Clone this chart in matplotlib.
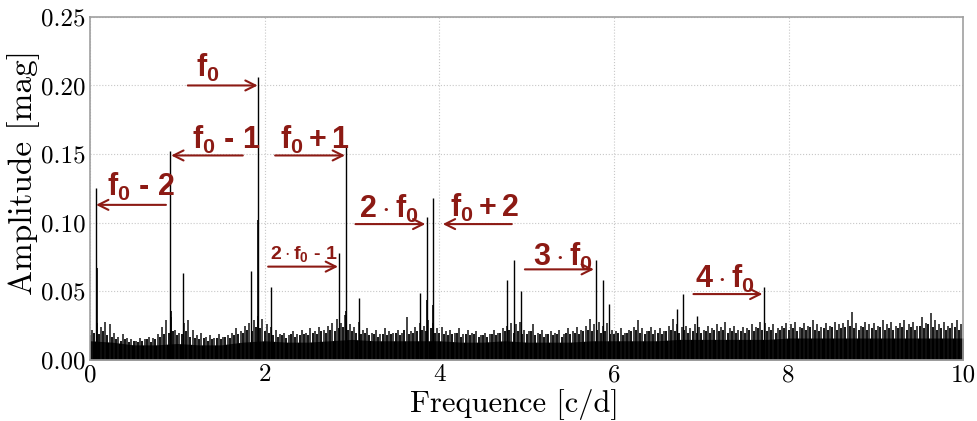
import numpy as np
import matplotlib
matplotlib.use("Agg")
import matplotlib.pyplot as plt
from matplotlib.ticker import FormatStrFormatter

plt.rcParams["font.family"] = "cmr10"
plt.rcParams["axes.formatter.use_mathtext"] = False
plt.rcParams["mathtext.fontset"] = "cm"
plt.rcParams["mathtext.rm"] = "Liberation Sans:bold"
plt.rcParams["mathtext.bf"] = "Liberation Sans:bold"
plt.rcParams["mathtext.it"] = "Liberation Sans:bold"

# main peaks of the amplitude spectrum [c/d], [mag]
peak_freq = [0.070, 0.916, 1.069, 1.844, 1.920, 2.077, 2.852, 2.928, 3.085,
             3.780, 3.856, 3.930, 4.780, 4.860, 4.930, 5.790, 5.870, 5.945,
             6.720, 6.790, 6.950, 7.720]
peak_amp = [0.125, 0.152, 0.063, 0.065, 0.206, 0.053, 0.078, 0.155, 0.045,
            0.049, 0.104, 0.118, 0.058, 0.073, 0.050, 0.073, 0.058, 0.041,
            0.037, 0.048, 0.032, 0.053]

# close companions sitting under the big peaks
side_freq = [0.076, 0.925, 1.926, 2.935, 3.862, 3.925]
side_amp = [0.067, 0.036, 0.102, 0.036, 0.044, 0.040]

# taller noise spikes, one every 0.05 c/d
noise_freq = np.arange(0.025, 10.0, 0.05)
noise_amp = [
    0.022, 0.027, 0.024, 0.028, 0.026, 0.020, 0.017, 0.019, 0.016, 0.015,
    0.014, 0.016, 0.015, 0.017, 0.016, 0.019, 0.024, 0.029, 0.031, 0.022,
    0.020, 0.027, 0.029, 0.022, 0.018, 0.020, 0.017, 0.018, 0.016, 0.019,
    0.017, 0.018, 0.020, 0.023, 0.021, 0.025, 0.027, 0.029, 0.032, 0.030,
    0.026, 0.024, 0.022, 0.019, 0.020, 0.018, 0.021, 0.019, 0.022, 0.020,
    0.023, 0.021, 0.024, 0.022, 0.025, 0.027, 0.030, 0.027, 0.033, 0.026,
    0.024, 0.028, 0.022, 0.023, 0.020, 0.022, 0.019, 0.023, 0.021, 0.020,
    0.022, 0.020, 0.031, 0.021, 0.024, 0.027, 0.025, 0.029, 0.027, 0.023,
    0.024, 0.021, 0.022, 0.020, 0.023, 0.019, 0.022, 0.020, 0.021, 0.018,
    0.020, 0.019, 0.022, 0.020, 0.023, 0.025, 0.027, 0.026, 0.028, 0.022,
    0.021, 0.026, 0.020, 0.022, 0.019, 0.021, 0.020, 0.022, 0.019, 0.023,
    0.021, 0.024, 0.022, 0.025, 0.030, 0.026, 0.028, 0.025, 0.027, 0.022,
    0.021, 0.023, 0.020, 0.022, 0.024, 0.029, 0.023, 0.021, 0.024, 0.022,
    0.023, 0.021, 0.025, 0.030, 0.026, 0.024, 0.025, 0.023, 0.026, 0.024,
    0.022, 0.025, 0.023, 0.026, 0.024, 0.028, 0.023, 0.025, 0.022, 0.024,
    0.023, 0.026, 0.024, 0.028, 0.027, 0.024, 0.026, 0.023, 0.025, 0.027,
    0.026, 0.028, 0.024, 0.027, 0.025, 0.029, 0.026, 0.024, 0.027, 0.025,
    0.028, 0.026, 0.027, 0.029, 0.035, 0.027, 0.025, 0.028, 0.026, 0.027,
    0.025, 0.029, 0.026, 0.028, 0.025, 0.027, 0.029, 0.026, 0.028, 0.025,
    0.031, 0.027, 0.034, 0.029, 0.026, 0.028, 0.025, 0.027, 0.029, 0.026,
]

# lower noise spikes in between
noise_freq2 = np.arange(0.0, 10.0, 0.05)
noise_amp2 = [
    0.018, 0.020, 0.019, 0.021, 0.018, 0.017, 0.015, 0.014, 0.015, 0.013,
    0.014, 0.013, 0.014, 0.015, 0.013, 0.015, 0.017, 0.019, 0.020, 0.021,
    0.018, 0.019, 0.021, 0.017, 0.016, 0.015, 0.016, 0.014, 0.015, 0.016,
    0.015, 0.017, 0.016, 0.018, 0.019, 0.020, 0.022, 0.021, 0.024, 0.023,
    0.021, 0.020, 0.018, 0.017, 0.018, 0.016, 0.019, 0.017, 0.018, 0.019,
    0.018, 0.020, 0.019, 0.021, 0.020, 0.022, 0.021, 0.023, 0.024, 0.022,
    0.021, 0.020, 0.019, 0.020, 0.018, 0.019, 0.017, 0.019, 0.018, 0.019,
    0.020, 0.018, 0.022, 0.019, 0.020, 0.021, 0.022, 0.021, 0.023, 0.020,
    0.020, 0.019, 0.018, 0.019, 0.020, 0.017, 0.019, 0.018, 0.019, 0.017,
    0.018, 0.017, 0.019, 0.018, 0.020, 0.021, 0.022, 0.020, 0.021, 0.019,
    0.019, 0.021, 0.018, 0.019, 0.017, 0.019, 0.018, 0.019, 0.017, 0.020,
    0.019, 0.020, 0.019, 0.021, 0.022, 0.021, 0.022, 0.020, 0.021, 0.019,
    0.019, 0.020, 0.018, 0.020, 0.021, 0.022, 0.020, 0.019, 0.021, 0.019,
    0.020, 0.019, 0.021, 0.022, 0.021, 0.020, 0.022, 0.020, 0.021, 0.020,
    0.020, 0.021, 0.020, 0.022, 0.021, 0.022, 0.020, 0.021, 0.020, 0.021,
    0.020, 0.022, 0.021, 0.023, 0.022, 0.021, 0.022, 0.020, 0.022, 0.023,
    0.022, 0.023, 0.021, 0.023, 0.022, 0.024, 0.022, 0.021, 0.023, 0.022,
    0.024, 0.022, 0.023, 0.024, 0.025, 0.023, 0.022, 0.024, 0.022, 0.023,
    0.022, 0.024, 0.022, 0.023, 0.022, 0.023, 0.024, 0.022, 0.024, 0.022,
    0.025, 0.023, 0.026, 0.024, 0.022, 0.023, 0.022, 0.023, 0.024, 0.022,
]

# solid noise floor, every 0.25 c/d
floor_freq = np.arange(0.0, 10.01, 0.25)
floor_amp = [0.014, 0.013, 0.011, 0.011, 0.012, 0.011, 0.011, 0.013, 0.014,
             0.013, 0.013, 0.014, 0.015, 0.014, 0.014, 0.014, 0.014, 0.013,
             0.013, 0.014, 0.013, 0.013, 0.013, 0.014, 0.014, 0.014, 0.014,
             0.015, 0.015, 0.015, 0.015, 0.015, 0.016, 0.016, 0.016, 0.016,
             0.016, 0.016, 0.016, 0.016, 0.016]

# annotations: label, text position, arrow tail, arrow head, font size
dash = " \u2010 "
labels = [r"$\mathbf{f_0}$",
          r"$\mathbf{f_0}$" + dash + r"$\mathbf{1}$",
          r"$\mathbf{f_0}$" + dash + r"$\mathbf{2}$",
          r"$\mathbf{f_0+1}$",
          r"$\mathbf{2\cdot f_0}$" + dash + r"$\mathbf{1}$",
          r"$\mathbf{2\cdot f_0}$", r"$\mathbf{f_0+2}$",
          r"$\mathbf{3\cdot f_0}$", r"$\mathbf{4\cdot f_0}$"]
label_xy = [(1.35, 0.213), (1.56, 0.160), (0.58, 0.126), (2.58, 0.160),
            (2.45, 0.077), (3.42, 0.110), (4.52, 0.111), (5.41, 0.075),
            (7.27, 0.059)]
arrow_from = [(1.12, 0.200), (1.75, 0.149), (0.87, 0.113), (2.12, 0.149),
              (2.04, 0.068), (3.04, 0.099), (4.83, 0.099), (4.98, 0.066),
              (6.91, 0.048)]
arrow_to = [(1.92, 0.200), (0.93, 0.149), (0.07, 0.113), (2.92, 0.149),
            (2.84, 0.068), (3.84, 0.099), (4.04, 0.099), (5.77, 0.066),
            (7.70, 0.048)]
label_size = [22, 22, 22, 22, 14, 22, 22, 22, 22]

red = "#8c1a14"

fig = plt.figure(figsize=(9.78, 4.21), dpi=100)
ax = fig.add_axes([0.092, 0.145, 0.893, 0.815])

ax.fill_between(floor_freq, 0, floor_amp, color="black", lw=0)
ax.vlines(noise_freq2, 0, noise_amp2, color="black", lw=1.3)
ax.vlines(noise_freq, 0, noise_amp, color="#111111", lw=1.1)
ax.vlines(peak_freq, 0, peak_amp, color="black", lw=1.0)
ax.vlines(side_freq, 0, side_amp, color="black", lw=1.2)

for txt, xy, p0, p1, fs in zip(labels, label_xy, arrow_from, arrow_to, label_size):
    ax.annotate("", xy=p1, xytext=p0,
                arrowprops=dict(arrowstyle="->", color=red, lw=1.5,
                                mutation_scale=18, shrinkA=0, shrinkB=0))
    ax.text(xy[0], xy[1], txt, color=red, fontsize=fs, ha="center",
            va="center", math_fontfamily="custom",
            family=["Liberation Sans", "DejaVu Sans"], fontweight="bold")

ax.set_xlim(0, 10)
ax.set_ylim(0, 0.25)
ax.set_xticks([0, 2, 4, 6, 8, 10])
ax.set_yticks([0.0, 0.05, 0.10, 0.15, 0.20, 0.25])
ax.yaxis.set_major_formatter(FormatStrFormatter("%.2f"))
ax.tick_params(labelsize=18, length=0, pad=3)
ax.grid(True, color="#c8c8c8", ls=":", lw=0.8)
ax.set_axisbelow(True)
for s in ax.spines.values():
    s.set_color("#a0a0a0")
    s.set_linewidth(1.2)

ax.set_xlabel("Frequence [c/d]", fontsize=22)
ax.set_ylabel("Amplitude [mag]", fontsize=24)
ax.xaxis.set_label_coords(0.486, -0.085)
ax.yaxis.set_label_coords(-0.057, 0.545)

fig.savefig("out.png", dpi=100)
